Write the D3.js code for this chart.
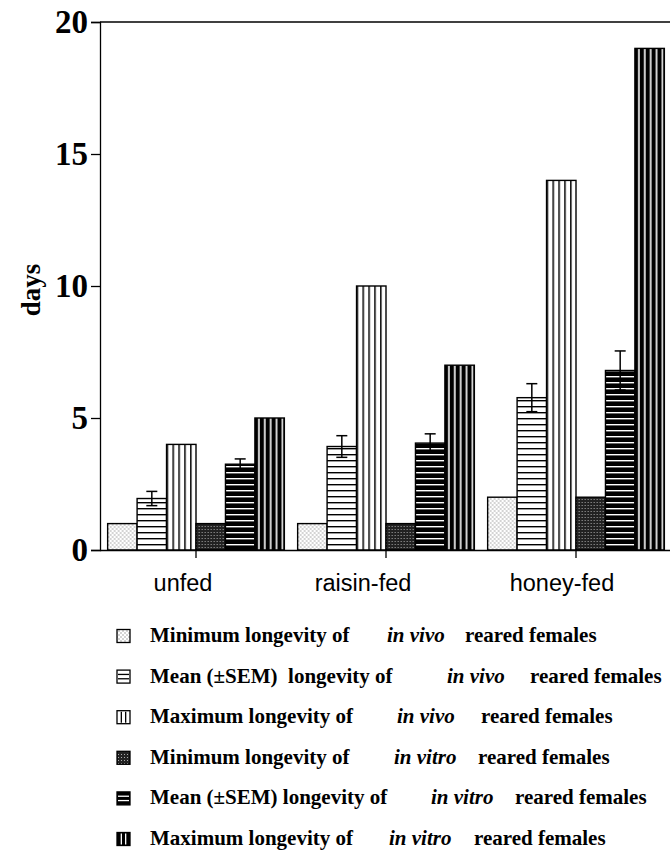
<!DOCTYPE html>
<html>
<head>
<meta charset="utf-8">
<script src="https://cdn.jsdelivr.net/npm/d3@7"></script>
<style>
  html, body { margin: 0; padding: 0; background: #fff; }
  svg { display: block; }
</style>
</head>
<body>
<svg id="chart" width="670" height="851"></svg>
<script>
// ---------------- data ----------------
const categories = ["unfed", "raisin-fed", "honey-fed"];
const seriesKeys = ["minVivo", "meanVivo", "maxVivo", "minVitro", "meanVitro", "maxVitro"];
const minVivo   = [1, 1, 2];
const meanVivo  = [1.95, 3.92, 5.77];
const semVivo   = [0.27, 0.41, 0.53];
const maxVivo   = [4, 10, 14];
const minVitro  = [1, 1, 2];
const meanVitro = [3.25, 4.05, 6.8];
const semVitro  = [0.2, 0.35, 0.74];
const maxVitro  = [5, 7, 19];
const yTicks = [0, 5, 10, 15, 20];
const yLabel = "days";
const legendPrefix = ["Minimum longevity of", "Mean (\u00B1SEM)  longevity of", "Maximum longevity of",
                      "Minimum longevity of", "Mean (\u00B1SEM) longevity of", "Maximum longevity of"];
const legendItalic = ["in vivo", "in vivo", "in vivo", "in vitro", "in vitro", "in vitro"];
const legendSuffix = ["reared females", "reared females", "reared females",
                      "reared females", "reared females", "reared females"];

// ---------------- layout (not data) ----------------
const legendItalicX = [387, 447, 397, 394, 431, 389];
const legendSuffixX = [465, 530, 481, 478, 515, 474];
const catLabelDx = [-13, -23, -14];

const values = { minVivo, meanVivo, maxVivo, minVitro, meanVitro, maxVitro };
const sems = { meanVivo: semVivo, meanVitro: semVitro };

const svg = d3.select("#chart");
const mLeft = 100, mRight = 671, mTop = 22, mBottom = 550;

const x0 = d3.scaleBand().domain(categories).range([101, 671]).paddingInner(0.07).paddingOuter(0.035);
const x1 = d3.scaleBand().domain(seriesKeys).range([0, x0.bandwidth()]).padding(0);
const y = d3.scaleLinear().domain([0, 20]).range([mBottom, mTop]);

// ---------------- patterns ----------------
const defs = svg.append("defs");
const pDot = defs.append("pattern").attr("id", "p-minVivo").attr("patternUnits", "userSpaceOnUse")
  .attr("width", 4).attr("height", 4);
pDot.append("rect").attr("width", 4).attr("height", 4).attr("fill", "#fff");
pDot.append("rect").attr("x", 0.5).attr("y", 0.5).attr("width", 1).attr("height", 1).attr("fill", "#555");
pDot.append("rect").attr("x", 2.5).attr("y", 2.5).attr("width", 1).attr("height", 1).attr("fill", "#555");
const pDark = defs.append("pattern").attr("id", "p-minVitro").attr("patternUnits", "userSpaceOnUse")
  .attr("width", 3).attr("height", 3);
pDark.append("rect").attr("width", 3).attr("height", 3).attr("fill", "#222");
pDark.append("rect").attr("x", 1).attr("y", 1).attr("width", 1).attr("height", 1).attr("fill", "#aaa");
function hStripes(id, bg, fg, lw) {
  const p = defs.append("pattern").attr("id", id).attr("patternUnits", "userSpaceOnUse")
    .attr("x", 0).attr("y", mBottom % 6).attr("width", 10).attr("height", 6);
  p.append("rect").attr("width", 10).attr("height", 6).attr("fill", bg);
  p.append("rect").attr("x", 0).attr("y", 0).attr("width", 10).attr("height", lw).attr("fill", fg);
}
hStripes("p-meanVivo", "#fff", "#000", 1.4);
hStripes("p-meanVitro", "#000", "#fff", 1.4);
function vStripes(id, bg, fg, lw) {
  const p = defs.append("pattern").attr("id", id).attr("patternUnits", "objectBoundingBox")
    .attr("width", 0.2).attr("height", 1);
  p.append("rect").attr("width", 20).attr("height", 1000).attr("fill", bg);
  p.append("rect").attr("x", bg === "#fff" ? 0 : 3.2).attr("y", 0).attr("width", lw).attr("height", 1000).attr("fill", fg);
}
vStripes("p-maxVivo", "#fff", "#000", 1.5);
vStripes("p-maxVitro", "#000", "#fff", 1.6);

// ---------------- bars ----------------
const groups = svg.append("g").selectAll("g").data(categories).join("g")
  .attr("transform", d => `translate(${x0(d)},0)`);

groups.selectAll("rect.bar")
  .data((c, i) => seriesKeys.map(k => ({ key: k, value: values[k][i] })))
  .join("rect")
  .attr("class", "bar")
  .attr("x", d => x1(d.key))
  .attr("y", d => y(d.value))
  .attr("width", x1.bandwidth())
  .attr("height", d => y(0) - y(d.value))
  .attr("fill", d => `url(#p-${d.key})`)
  .attr("stroke", "#000")
  .attr("stroke-width", 1.4);

const capW = 11;
const errs = groups.selectAll("g.err")
  .data((c, i) => seriesKeys.filter(k => sems[k]).map(k => ({ key: k, value: values[k][i], sem: sems[k][i] })))
  .join("g").attr("class", "err")
  .attr("transform", d => `translate(${x1(d.key) + x1.bandwidth() / 2},0)`);
errs.append("line").attr("x1", 0).attr("x2", 0)
  .attr("y1", d => y(d.value + d.sem)).attr("y2", d => y(d.value - d.sem))
  .attr("stroke", "#000").attr("stroke-width", 1.5);
errs.append("line").attr("x1", -capW / 2).attr("x2", capW / 2)
  .attr("y1", d => y(d.value + d.sem)).attr("y2", d => y(d.value + d.sem))
  .attr("stroke", "#000").attr("stroke-width", 1.5);
errs.append("line").attr("x1", -capW / 2).attr("x2", capW / 2)
  .attr("y1", d => y(d.value - d.sem)).attr("y2", d => y(d.value - d.sem))
  .attr("stroke", "#000").attr("stroke-width", 1.5);

// ---------------- axes ----------------
const yAxis = svg.append("g").attr("transform", `translate(${mLeft},0)`)
  .call(d3.axisLeft(y).tickValues(yTicks).tickSize(9).tickPadding(3).tickFormat(d3.format("d")));
yAxis.select(".domain").attr("stroke-width", 1.3);
yAxis.selectAll(".tick line").attr("stroke-width", 1.3);
yAxis.selectAll(".tick text")
  .attr("font-family", "'Liberation Serif', 'Times New Roman', serif")
  .attr("font-weight", "bold").attr("font-size", 33).attr("fill", "#000");

const xAxis = svg.append("g").attr("transform", `translate(0,${mBottom})`)
  .call(d3.axisBottom(x0).tickSize(8).tickSizeOuter(0).tickFormat(""));
xAxis.select(".domain").attr("d", `M${mLeft},0.5H${mRight}`).attr("stroke-width", 1.3);
xAxis.selectAll(".tick line").attr("stroke-width", 1.3);

svg.append("line").attr("x1", mLeft).attr("x2", mRight).attr("y1", y(20)).attr("y2", y(20))
  .attr("stroke", "#000").attr("stroke-width", 1.3);

svg.append("g").selectAll("text").data(categories).join("text")
  .attr("x", (d, i) => x0(d) + x0.bandwidth() / 2 + catLabelDx[i])
  .attr("y", 591)
  .attr("text-anchor", "middle")
  .attr("font-family", "'Liberation Sans', Arial, sans-serif")
  .attr("font-size", 23.5)
  .attr("fill", "#000")
  .text(d => d);

svg.append("text")
  .attr("transform", `translate(40,290) rotate(-90)`)
  .attr("text-anchor", "middle")
  .attr("font-family", "'Liberation Serif', 'Times New Roman', serif")
  .attr("font-weight", "bold").attr("font-size", 27)
  .text(yLabel);

// ---------------- legend ----------------
const rowBase = d3.scaleLinear().domain([0, 5]).range([642, 845]);
const leg = svg.append("g").selectAll("g").data(seriesKeys).join("g");
const iconS = 13;
leg.each(function (k, i) {
  const g = d3.select(this);
  const yb = rowBase(i);
  const ix = 117, iy = yb - 12.5;
  const dark = k.endsWith("Vitro");
  const kind = k.startsWith("min") ? "min" : k.startsWith("mean") ? "mean" : "max";
  g.append("rect").attr("x", ix).attr("y", iy).attr("width", iconS).attr("height", iconS)
    .attr("fill", kind === "min" ? `url(#p-${k})` : (dark ? "#000" : "#fff"))
    .attr("stroke", "#000").attr("stroke-width", 1.3);
  const lc = dark ? "#fff" : "#000";
  if (kind === "mean") {
    [1, 2].forEach(j => g.append("line").attr("x1", ix + 1).attr("x2", ix + iconS - 1)
      .attr("y1", iy + j * iconS / 3).attr("y2", iy + j * iconS / 3).attr("stroke", lc).attr("stroke-width", 1.3));
  } else if (kind === "max") {
    [1, 2].forEach(j => g.append("line").attr("y1", iy + 1).attr("y2", iy + iconS - 1)
      .attr("x1", ix + j * iconS / 3).attr("x2", ix + j * iconS / 3).attr("stroke", lc).attr("stroke-width", 1.3));
  }
  const font = "'Liberation Serif', 'Times New Roman', serif";
  g.append("text").attr("x", 150).attr("y", yb).attr("font-family", font).attr("font-weight", "bold")
    .attr("font-size", 21).style("white-space", "pre").text(legendPrefix[i]);
  g.append("text").attr("x", legendItalicX[i]).attr("y", yb).attr("font-family", font).attr("font-weight", "bold")
    .attr("font-style", "italic").attr("font-size", 21).text(legendItalic[i]);
  g.append("text").attr("x", legendSuffixX[i]).attr("y", yb).attr("font-family", font).attr("font-weight", "bold")
    .attr("font-size", 21).text(legendSuffix[i]);
});
</script>
</body>
</html>
